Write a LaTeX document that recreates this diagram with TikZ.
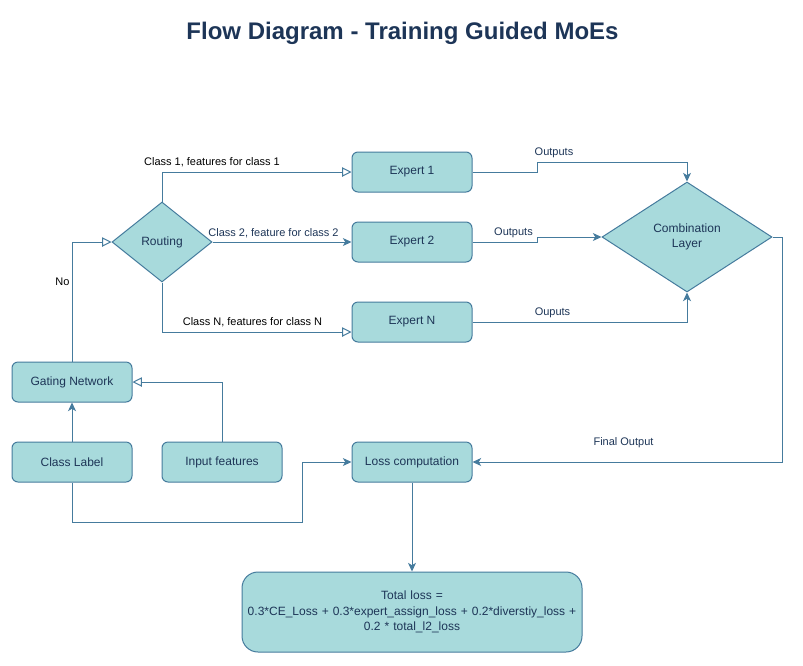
\documentclass[tikz,border=0pt]{standalone}
\usepackage{xcolor}
\usepackage{fontspec}
\setmainfont{Liberation Sans}
\usetikzlibrary{shapes.geometric,arrows.meta,positioning,calc}
\definecolor{boxfill}{HTML}{A8DADC}
\definecolor{boxline}{HTML}{457B9D}
\definecolor{boxtext}{HTML}{1D3557}

\begin{document}
\begin{tikzpicture}[x=0.75pt,y=-0.75pt,line width=0.75pt,>={Stealth[length=6.5pt,width=6pt,inset=1.8pt]}]
	\tikzstyle{block} = [draw=boxline,rectangle,rounded corners=4.5pt,fill=boxfill,text=boxtext,minimum width=90pt,minimum height=30pt,inner sep=0pt,font=\fontsize{9}{11}\selectfont]
	\tikzstyle{bigblock} = [block,rounded corners=12pt,minimum width=255pt,minimum height=60pt,text width=250pt,align=center,font=\fontsize{9}{11.6}\selectfont]
	\tikzstyle{decision} = [draw=boxline,diamond,fill=boxfill,text=boxtext,inner sep=0pt,align=center,font=\fontsize{9}{11}\selectfont]
	\tikzstyle{lbl} = [inner sep=0pt,font=\fontsize{8.25}{10}\selectfont]
	\tikzset{
		link/.style={draw=boxline,->},
		openlink/.style={draw=boxline,-{Triangle[open,length=7pt,width=7pt]}}
	}
	\useasboundingbox (0,0) rectangle (803,665);
	
	\node[text=boxtext,font=\fontsize{18}{22}\selectfont\bfseries] (title) at (402.5,33) {Flow Diagram - Training Guided MoEs};
	
	\node[decision,minimum width=75pt,minimum height=60pt,aspect=1.25] (R) at (162,242) {Routing};
	\node[block] (E1) at (412,172) {Expert 1};
	\node[block] (E2) at (412,242) {Expert 2};
	\node[block] (EN) at (412,322) {Expert N};
	\node[decision,minimum width=127.5pt,minimum height=82.5pt,aspect=1.55] (C) at (687,237) {Combination\\Layer};
	\node[block] (G) at (72,382) {Gating Network};
	\node[block] (CL) at (72,462) {Class Label};
	\node[block] (IF) at (222,462) {Input features};
	\node[block] (L) at (412,462) {Loss computation};
	\node[bigblock] (TL) at (412,612) {Total loss =\\0.3*CE\_Loss + 0.3*expert\_assign\_loss + 0.2*diverstiy\_loss +\\0.2 * total\_l2\_loss};
	
	% routing to the experts
	\draw[openlink] (R.north) |- (E1.west);
	\draw[link] (R.east) -- (E2.west);
	\draw[openlink] (R.south) |- ($(EN.west)+(0,10)$);
	\node[lbl] at (212,162) {Class 1, features for class 1};
	\node[lbl,text=boxtext] at (273.5,233) {Class 2, feature for class 2};
	\node[lbl] at (252.5,322) {Class N, features for class N};
	
	% gating
	\draw[openlink] (G.north) |- (R.west);
	\node[lbl] at (62.5,282) {No};
	\draw[link] (CL.north) -- (G.south);
	\draw[openlink] (IF.north) |- (G.east);
	
	% experts to combination
	\draw[link] (E1.east) -- ++(65,0) -- ++(0,-10) -| (C.north);
	\draw[link] (E2.east) -- ++(65,0) |- (C.west);
	\draw[link] (EN.east) -| (C.south);
	\node[lbl,text=boxtext] at (554,153) {Outputs};
	\node[lbl,text=boxtext] at (513.5,233) {Outputs};
	\node[lbl,text=boxtext] at (552.5,313) {Ouputs};
	
	% loss
	\draw[link] (C.east) -- ++(10,0) |- (L.east);
	\node[lbl,text=boxtext] at (623.5,443) {Final Output};
	\draw[link] (CL.south) -- ++(0,40) -- ++(230,0) |- (L.west);
	\draw[link] (L.south) -- (TL.north);
\end{tikzpicture}
\end{document}
